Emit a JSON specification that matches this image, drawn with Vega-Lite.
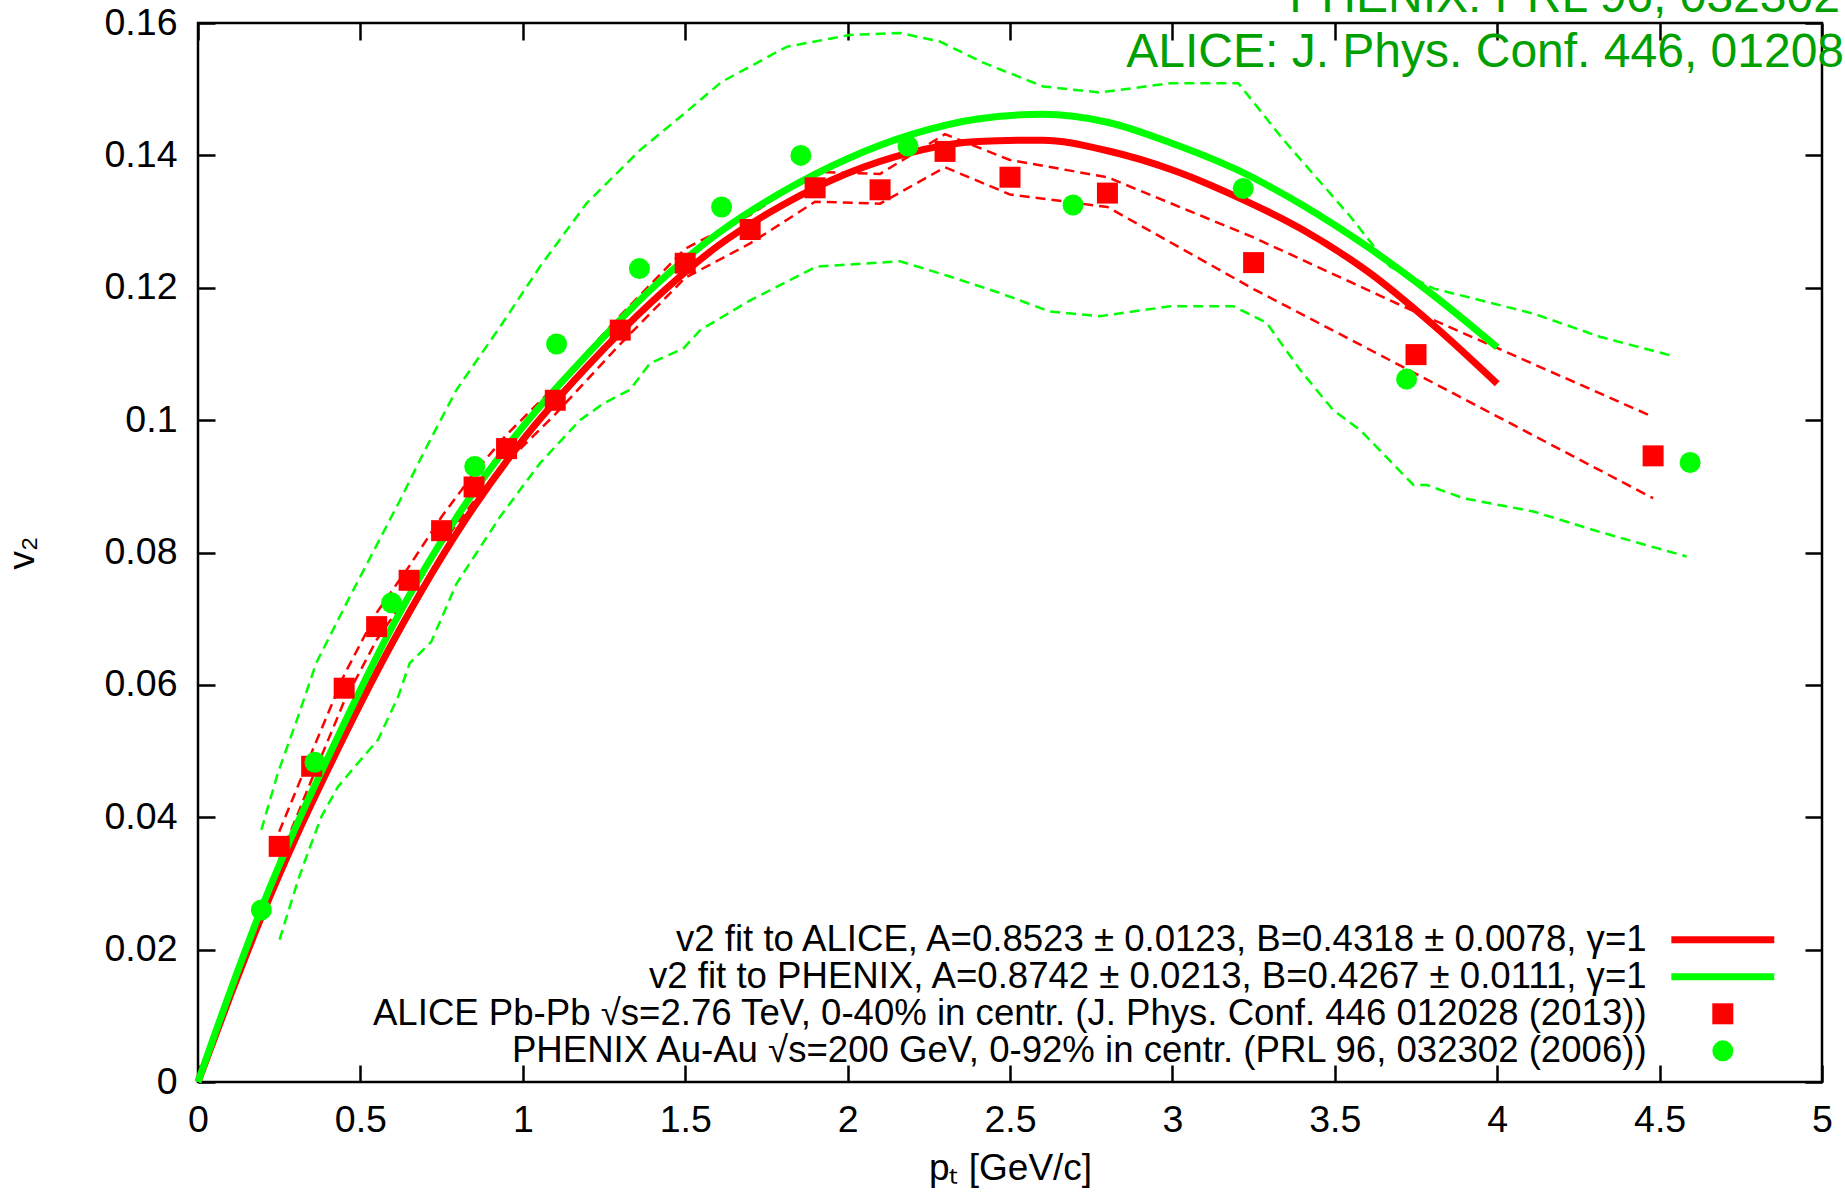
{
  "$schema": "https://vega.github.io/schema/vega-lite/v6.json",
  "width": 1624,
  "height": 1059,
  "autosize": "none",
  "padding": {"left": 198, "top": 23, "right": 23, "bottom": 110},
  "background": "white",
  "config": {
    "view": {"stroke": "black", "strokeWidth": 2.5},
    "font": "Liberation Sans",
    "axis": {
      "domain": false, "grid": false, "ticks": true,
      "tickColor": "black", "tickWidth": 2.5, "tickSize": -17,
      "labelFont": "Liberation Sans", "labelFontSize": 37.5, "labelColor": "black",
      "labelFlush": false, "labelOverlap": false,
      "titleFont": "Liberation Sans", "titleFontSize": 37, "titleFontWeight": "normal", "titleColor": "black"
    },
    "legend": {"symbolOpacity": 1}
  },
  "datasets": {
    "points": [
      {"pt": 0.25, "v2": 0.0356, "series": "ALICE Pb-Pb √s=2.76 TeV, 0-40% in centr. (J. Phys. Conf. 446 012028 (2013))"},
      {"pt": 0.35, "v2": 0.0477, "series": "ALICE Pb-Pb √s=2.76 TeV, 0-40% in centr. (J. Phys. Conf. 446 012028 (2013))"},
      {"pt": 0.45, "v2": 0.0595, "series": "ALICE Pb-Pb √s=2.76 TeV, 0-40% in centr. (J. Phys. Conf. 446 012028 (2013))"},
      {"pt": 0.55, "v2": 0.0688, "series": "ALICE Pb-Pb √s=2.76 TeV, 0-40% in centr. (J. Phys. Conf. 446 012028 (2013))"},
      {"pt": 0.65, "v2": 0.0758, "series": "ALICE Pb-Pb √s=2.76 TeV, 0-40% in centr. (J. Phys. Conf. 446 012028 (2013))"},
      {"pt": 0.75, "v2": 0.0833, "series": "ALICE Pb-Pb √s=2.76 TeV, 0-40% in centr. (J. Phys. Conf. 446 012028 (2013))"},
      {"pt": 0.85, "v2": 0.0899, "series": "ALICE Pb-Pb √s=2.76 TeV, 0-40% in centr. (J. Phys. Conf. 446 012028 (2013))"},
      {"pt": 0.95, "v2": 0.0957, "series": "ALICE Pb-Pb √s=2.76 TeV, 0-40% in centr. (J. Phys. Conf. 446 012028 (2013))"},
      {"pt": 1.1, "v2": 0.1030, "series": "ALICE Pb-Pb √s=2.76 TeV, 0-40% in centr. (J. Phys. Conf. 446 012028 (2013))"},
      {"pt": 1.3, "v2": 0.1136, "series": "ALICE Pb-Pb √s=2.76 TeV, 0-40% in centr. (J. Phys. Conf. 446 012028 (2013))"},
      {"pt": 1.5, "v2": 0.1237, "series": "ALICE Pb-Pb √s=2.76 TeV, 0-40% in centr. (J. Phys. Conf. 446 012028 (2013))"},
      {"pt": 1.7, "v2": 0.1288, "series": "ALICE Pb-Pb √s=2.76 TeV, 0-40% in centr. (J. Phys. Conf. 446 012028 (2013))"},
      {"pt": 1.9, "v2": 0.1351, "series": "ALICE Pb-Pb √s=2.76 TeV, 0-40% in centr. (J. Phys. Conf. 446 012028 (2013))"},
      {"pt": 2.1, "v2": 0.1348, "series": "ALICE Pb-Pb √s=2.76 TeV, 0-40% in centr. (J. Phys. Conf. 446 012028 (2013))"},
      {"pt": 2.3, "v2": 0.1406, "series": "ALICE Pb-Pb √s=2.76 TeV, 0-40% in centr. (J. Phys. Conf. 446 012028 (2013))"},
      {"pt": 2.5, "v2": 0.1367, "series": "ALICE Pb-Pb √s=2.76 TeV, 0-40% in centr. (J. Phys. Conf. 446 012028 (2013))"},
      {"pt": 2.8, "v2": 0.1343, "series": "ALICE Pb-Pb √s=2.76 TeV, 0-40% in centr. (J. Phys. Conf. 446 012028 (2013))"},
      {"pt": 3.25, "v2": 0.1238, "series": "ALICE Pb-Pb √s=2.76 TeV, 0-40% in centr. (J. Phys. Conf. 446 012028 (2013))"},
      {"pt": 3.75, "v2": 0.1099, "series": "ALICE Pb-Pb √s=2.76 TeV, 0-40% in centr. (J. Phys. Conf. 446 012028 (2013))"},
      {"pt": 4.48, "v2": 0.0946, "series": "ALICE Pb-Pb √s=2.76 TeV, 0-40% in centr. (J. Phys. Conf. 446 012028 (2013))"},
      {"pt": 0.195, "v2": 0.0260, "series": "PHENIX Au-Au √s=200 GeV, 0-92% in centr. (PRL 96, 032302 (2006))"},
      {"pt": 0.36, "v2": 0.0483, "series": "PHENIX Au-Au √s=200 GeV, 0-92% in centr. (PRL 96, 032302 (2006))"},
      {"pt": 0.596, "v2": 0.0724, "series": "PHENIX Au-Au √s=200 GeV, 0-92% in centr. (PRL 96, 032302 (2006))"},
      {"pt": 0.852, "v2": 0.0930, "series": "PHENIX Au-Au √s=200 GeV, 0-92% in centr. (PRL 96, 032302 (2006))"},
      {"pt": 1.104, "v2": 0.1115, "series": "PHENIX Au-Au √s=200 GeV, 0-92% in centr. (PRL 96, 032302 (2006))"},
      {"pt": 1.359, "v2": 0.1229, "series": "PHENIX Au-Au √s=200 GeV, 0-92% in centr. (PRL 96, 032302 (2006))"},
      {"pt": 1.612, "v2": 0.1322, "series": "PHENIX Au-Au √s=200 GeV, 0-92% in centr. (PRL 96, 032302 (2006))"},
      {"pt": 1.856, "v2": 0.1400, "series": "PHENIX Au-Au √s=200 GeV, 0-92% in centr. (PRL 96, 032302 (2006))"},
      {"pt": 2.186, "v2": 0.1414, "series": "PHENIX Au-Au √s=200 GeV, 0-92% in centr. (PRL 96, 032302 (2006))"},
      {"pt": 2.694, "v2": 0.1325, "series": "PHENIX Au-Au √s=200 GeV, 0-92% in centr. (PRL 96, 032302 (2006))"},
      {"pt": 3.218, "v2": 0.1350, "series": "PHENIX Au-Au √s=200 GeV, 0-92% in centr. (PRL 96, 032302 (2006))"},
      {"pt": 3.721, "v2": 0.1062, "series": "PHENIX Au-Au √s=200 GeV, 0-92% in centr. (PRL 96, 032302 (2006))"},
      {"pt": 4.594, "v2": 0.0936, "series": "PHENIX Au-Au √s=200 GeV, 0-92% in centr. (PRL 96, 032302 (2006))"}
    ],
    "fitA": [
      {"pt": 0, "v2": 0}, {"pt": 0.1, "v2": 0.0131}, {"pt": 0.2, "v2": 0.0255}, {"pt": 0.3, "v2": 0.0368},
      {"pt": 0.4, "v2": 0.0472}, {"pt": 0.6, "v2": 0.0665}, {"pt": 0.8, "v2": 0.0832}, {"pt": 1.0, "v2": 0.0970},
      {"pt": 1.2, "v2": 0.1082}, {"pt": 1.4, "v2": 0.1180}, {"pt": 1.6, "v2": 0.1263}, {"pt": 1.8, "v2": 0.1325},
      {"pt": 2.0, "v2": 0.1373}, {"pt": 2.2, "v2": 0.1405}, {"pt": 2.4, "v2": 0.1421}, {"pt": 2.6, "v2": 0.1423},
      {"pt": 2.8, "v2": 0.1407}, {"pt": 3.0, "v2": 0.1378}, {"pt": 3.2, "v2": 0.1337}, {"pt": 3.4, "v2": 0.1288},
      {"pt": 3.6, "v2": 0.1225}, {"pt": 3.8, "v2": 0.1145}, {"pt": 4.0, "v2": 0.1055}
    ],
    "fitP": [
      {"pt": 0, "v2": 0}, {"pt": 0.1, "v2": 0.0138}, {"pt": 0.2, "v2": 0.0268}, {"pt": 0.3, "v2": 0.0384},
      {"pt": 0.4, "v2": 0.0490}, {"pt": 0.6, "v2": 0.0690}, {"pt": 0.8, "v2": 0.0856}, {"pt": 1.0, "v2": 0.0990},
      {"pt": 1.2, "v2": 0.1100}, {"pt": 1.4, "v2": 0.1200}, {"pt": 1.6, "v2": 0.1282}, {"pt": 1.8, "v2": 0.1345},
      {"pt": 2.0, "v2": 0.1395}, {"pt": 2.2, "v2": 0.1432}, {"pt": 2.4, "v2": 0.1455}, {"pt": 2.6, "v2": 0.1462},
      {"pt": 2.8, "v2": 0.1450}, {"pt": 3.0, "v2": 0.1418}, {"pt": 3.2, "v2": 0.1378}, {"pt": 3.4, "v2": 0.1325},
      {"pt": 3.6, "v2": 0.1262}, {"pt": 3.8, "v2": 0.1190}, {"pt": 4.0, "v2": 0.1110}
    ],
    "bandA": [
      {"pt": 0.25, "v2": 0.0378, "edge": "hi"}, {"pt": 0.35, "v2": 0.0498, "edge": "hi"}, {"pt": 0.45, "v2": 0.0615, "edge": "hi"},
      {"pt": 0.55, "v2": 0.0709, "edge": "hi"}, {"pt": 0.65, "v2": 0.0779, "edge": "hi"}, {"pt": 0.75, "v2": 0.0854, "edge": "hi"},
      {"pt": 0.85, "v2": 0.0920, "edge": "hi"}, {"pt": 0.95, "v2": 0.0978, "edge": "hi"}, {"pt": 1.1, "v2": 0.1051, "edge": "hi"},
      {"pt": 1.3, "v2": 0.1158, "edge": "hi"}, {"pt": 1.5, "v2": 0.1259, "edge": "hi"}, {"pt": 1.7, "v2": 0.1310, "edge": "hi"},
      {"pt": 1.9, "v2": 0.1375, "edge": "hi"}, {"pt": 2.1, "v2": 0.1372, "edge": "hi"}, {"pt": 2.3, "v2": 0.1432, "edge": "hi"},
      {"pt": 2.5, "v2": 0.1393, "edge": "hi"}, {"pt": 2.8, "v2": 0.1367, "edge": "hi"}, {"pt": 3.25, "v2": 0.1276, "edge": "hi"},
      {"pt": 3.75, "v2": 0.1163, "edge": "hi"}, {"pt": 4.48, "v2": 0.1005, "edge": "hi"},
      {"pt": 0.25, "v2": 0.0336, "edge": "lo"}, {"pt": 0.35, "v2": 0.0457, "edge": "lo"}, {"pt": 0.45, "v2": 0.0575, "edge": "lo"},
      {"pt": 0.55, "v2": 0.0668, "edge": "lo"}, {"pt": 0.65, "v2": 0.0738, "edge": "lo"}, {"pt": 0.75, "v2": 0.0812, "edge": "lo"},
      {"pt": 0.85, "v2": 0.0878, "edge": "lo"}, {"pt": 0.95, "v2": 0.0936, "edge": "lo"}, {"pt": 1.1, "v2": 0.1009, "edge": "lo"},
      {"pt": 1.3, "v2": 0.1115, "edge": "lo"}, {"pt": 1.5, "v2": 0.1215, "edge": "lo"}, {"pt": 1.7, "v2": 0.1267, "edge": "lo"},
      {"pt": 1.9, "v2": 0.1330, "edge": "lo"}, {"pt": 2.1, "v2": 0.1327, "edge": "lo"}, {"pt": 2.3, "v2": 0.1382, "edge": "lo"},
      {"pt": 2.5, "v2": 0.1341, "edge": "lo"}, {"pt": 2.8, "v2": 0.1322, "edge": "lo"}, {"pt": 3.25, "v2": 0.1198, "edge": "lo"},
      {"pt": 3.75, "v2": 0.1070, "edge": "lo"}, {"pt": 4.48, "v2": 0.0882, "edge": "lo"}
    ],
    "bandP": [
      {"pt": 0.195, "v2": 0.0381, "edge": "hi"}, {"pt": 0.246, "v2": 0.0467, "edge": "hi"}, {"pt": 0.308, "v2": 0.0552, "edge": "hi"},
      {"pt": 0.364, "v2": 0.0633, "edge": "hi"}, {"pt": 0.462, "v2": 0.0728, "edge": "hi"}, {"pt": 0.622, "v2": 0.0879, "edge": "hi"},
      {"pt": 0.699, "v2": 0.0955, "edge": "hi"}, {"pt": 0.796, "v2": 0.1046, "edge": "hi"}, {"pt": 0.930, "v2": 0.1141, "edge": "hi"},
      {"pt": 1.053, "v2": 0.1232, "edge": "hi"}, {"pt": 1.197, "v2": 0.1328, "edge": "hi"}, {"pt": 1.361, "v2": 0.1408, "edge": "hi"},
      {"pt": 1.504, "v2": 0.1466, "edge": "hi"}, {"pt": 1.612, "v2": 0.1511, "edge": "hi"}, {"pt": 1.812, "v2": 0.1564, "edge": "hi"},
      {"pt": 2.007, "v2": 0.1582, "edge": "hi"}, {"pt": 2.161, "v2": 0.1585, "edge": "hi"}, {"pt": 2.284, "v2": 0.1572, "edge": "hi"},
      {"pt": 2.418, "v2": 0.1540, "edge": "hi"}, {"pt": 2.603, "v2": 0.1504, "edge": "hi"}, {"pt": 2.777, "v2": 0.1495, "edge": "hi"},
      {"pt": 2.993, "v2": 0.1509, "edge": "hi"}, {"pt": 3.203, "v2": 0.1509, "edge": "hi"}, {"pt": 3.341, "v2": 0.1424, "edge": "hi"},
      {"pt": 3.547, "v2": 0.1308, "edge": "hi"}, {"pt": 3.670, "v2": 0.1232, "edge": "hi"}, {"pt": 3.803, "v2": 0.1199, "edge": "hi"},
      {"pt": 4.111, "v2": 0.1161, "edge": "hi"}, {"pt": 4.316, "v2": 0.1126, "edge": "hi"}, {"pt": 4.532, "v2": 0.1098, "edge": "hi"},
      {"pt": 0.251, "v2": 0.0215, "edge": "lo"}, {"pt": 0.308, "v2": 0.0305, "edge": "lo"}, {"pt": 0.338, "v2": 0.0346, "edge": "lo"},
      {"pt": 0.380, "v2": 0.0401, "edge": "lo"}, {"pt": 0.431, "v2": 0.0446, "edge": "lo"}, {"pt": 0.482, "v2": 0.0476, "edge": "lo"},
      {"pt": 0.554, "v2": 0.0517, "edge": "lo"}, {"pt": 0.616, "v2": 0.0582, "edge": "lo"}, {"pt": 0.652, "v2": 0.0633, "edge": "lo"},
      {"pt": 0.718, "v2": 0.0665, "edge": "lo"}, {"pt": 0.796, "v2": 0.0753, "edge": "lo"}, {"pt": 0.930, "v2": 0.0854, "edge": "lo"},
      {"pt": 1.053, "v2": 0.0935, "edge": "lo"}, {"pt": 1.176, "v2": 0.1000, "edge": "lo"}, {"pt": 1.248, "v2": 0.1025, "edge": "lo"},
      {"pt": 1.330, "v2": 0.1046, "edge": "lo"}, {"pt": 1.392, "v2": 0.1086, "edge": "lo"}, {"pt": 1.494, "v2": 0.1108, "edge": "lo"},
      {"pt": 1.546, "v2": 0.1136, "edge": "lo"}, {"pt": 1.700, "v2": 0.1181, "edge": "lo"}, {"pt": 1.905, "v2": 0.1232, "edge": "lo"},
      {"pt": 2.161, "v2": 0.1240, "edge": "lo"}, {"pt": 2.315, "v2": 0.1217, "edge": "lo"}, {"pt": 2.469, "v2": 0.1192, "edge": "lo"},
      {"pt": 2.623, "v2": 0.1164, "edge": "lo"}, {"pt": 2.777, "v2": 0.1157, "edge": "lo"}, {"pt": 2.993, "v2": 0.1172, "edge": "lo"},
      {"pt": 3.188, "v2": 0.1172, "edge": "lo"}, {"pt": 3.290, "v2": 0.1147, "edge": "lo"}, {"pt": 3.393, "v2": 0.1076, "edge": "lo"},
      {"pt": 3.495, "v2": 0.1015, "edge": "lo"}, {"pt": 3.578, "v2": 0.0985, "edge": "lo"}, {"pt": 3.742, "v2": 0.0902, "edge": "lo"},
      {"pt": 3.783, "v2": 0.0902, "edge": "lo"}, {"pt": 3.896, "v2": 0.0882, "edge": "lo"}, {"pt": 4.111, "v2": 0.0862, "edge": "lo"},
      {"pt": 4.316, "v2": 0.0831, "edge": "lo"}, {"pt": 4.583, "v2": 0.0794, "edge": "lo"}
    ]
  },
  "layer": [
    {
      "data": {"name": "bandP"},
      "mark": {"type": "line", "color": "#00ff00", "strokeWidth": 2.5, "strokeDash": [10, 6]},
      "encoding": {
        "x": {"field": "pt", "type": "quantitative",
              "scale": {"domain": [0, 5], "nice": false, "zero": false},
              "axis": {"orient": "bottom", "values": [0, 0.5, 1, 1.5, 2, 2.5, 3, 3.5, 4, 4.5, 5], "format": "~g",
                       "title": "pₜ [GeV/c]", "labelPadding": 36, "titlePadding": 12}},
        "y": {"field": "v2", "type": "quantitative",
              "scale": {"domain": [0, 0.16], "nice": false, "zero": false},
              "axis": {"orient": "left", "values": [0, 0.02, 0.04, 0.06, 0.08, 0.1, 0.12, 0.14, 0.16], "format": "~g",
                       "title": "v₂", "labelPadding": 38, "titlePadding": 63}},
        "detail": {"field": "edge", "type": "nominal"}
      }
    },
    {
      "data": {"name": "bandA"},
      "mark": {"type": "line", "color": "#ff0000", "strokeWidth": 2.5, "strokeDash": [10, 6]},
      "encoding": {
        "x": {"field": "pt", "type": "quantitative", "axis": null},
        "y": {"field": "v2", "type": "quantitative", "axis": null},
        "detail": {"field": "edge", "type": "nominal"}
      }
    },
    {
      "data": {"name": "fitA"},
      "mark": {"type": "line", "color": "#ff0000", "strokeWidth": 7, "interpolate": "monotone"},
      "encoding": {
        "x": {"field": "pt", "type": "quantitative",
              "axis": {"orient": "top", "labels": false, "title": null, "values": [0, 0.5, 1, 1.5, 2, 2.5, 3, 3.5, 4, 4.5, 5]}},
        "y": {"field": "v2", "type": "quantitative",
              "axis": {"orient": "right", "labels": false, "title": null, "values": [0, 0.02, 0.04, 0.06, 0.08, 0.1, 0.12, 0.14, 0.16]}}
      }
    },
    {
      "data": {"name": "fitP"},
      "mark": {"type": "line", "color": "#00ff00", "strokeWidth": 7, "interpolate": "monotone"},
      "encoding": {
        "x": {"field": "pt", "type": "quantitative", "axis": null},
        "y": {"field": "v2", "type": "quantitative", "axis": null}
      }
    },
    {
      "data": {"name": "points"},
      "mark": {"type": "point", "filled": true, "size": 441, "opacity": 1, "strokeWidth": 0},
      "encoding": {
        "x": {"field": "pt", "type": "quantitative", "axis": null},
        "y": {"field": "v2", "type": "quantitative", "axis": null},
        "color": {"field": "series", "type": "nominal",
          "scale": {"domain": [
            "v2 fit to ALICE, A=0.8523 ± 0.0123, B=0.4318 ± 0.0078, γ=1",
            "v2 fit to PHENIX, A=0.8742 ± 0.0213, B=0.4267 ± 0.0111, γ=1",
            "ALICE Pb-Pb √s=2.76 TeV, 0-40% in centr. (J. Phys. Conf. 446 012028 (2013))",
            "PHENIX Au-Au √s=200 GeV, 0-92% in centr. (PRL 96, 032302 (2006))"],
            "range": ["#ff0000", "#00ff00", "#ff0000", "#00ff00"]},
          "legend": {"title": null, "orient": "none", "legendX": 1506.5, "legendY": 898.5, "padding": 0,
                     "labelFont": "Liberation Sans", "labelFontSize": 36.6, "labelColor": "black",
                     "labelAlign": "right", "labelBaseline": "middle", "labelOffset": -94.5, "labelLimit": 3000,
                     "symbolSize": 441, "symbolStrokeWidth": 0, "rowPadding": -0.5}},
        "shape": {"field": "series", "type": "nominal",
          "scale": {"domain": [
            "v2 fit to ALICE, A=0.8523 ± 0.0123, B=0.4318 ± 0.0078, γ=1",
            "v2 fit to PHENIX, A=0.8742 ± 0.0213, B=0.4267 ± 0.0111, γ=1",
            "ALICE Pb-Pb √s=2.76 TeV, 0-40% in centr. (J. Phys. Conf. 446 012028 (2013))",
            "PHENIX Au-Au √s=200 GeV, 0-92% in centr. (PRL 96, 032302 (2006))"],
            "range": ["M-4.9,-0.34H4.9V0.34H-4.9Z", "M-4.9,-0.34H4.9V0.34H-4.9Z", "square", "circle"]},
          "legend": {"title": null, "orient": "none", "legendX": 1506.5, "legendY": 898.5, "padding": 0,
                     "labelFont": "Liberation Sans", "labelFontSize": 36.6, "labelColor": "black",
                     "labelAlign": "right", "labelBaseline": "middle", "labelOffset": -94.5, "labelLimit": 3000,
                     "symbolSize": 441, "symbolStrokeWidth": 0, "rowPadding": -0.5}}
      }
    },
    {
      "data": {"values": [{"label": "PHENIX: PRL 96, 032302"}]},
      "mark": {"type": "text", "align": "left", "baseline": "alphabetic",
               "font": "Liberation Sans", "fontSize": 48, "color": "#00a000"},
      "encoding": {
        "x": {"datum": 3.36, "type": "quantitative", "axis": null},
        "y": {"datum": 0.1617, "type": "quantitative", "axis": null},
        "text": {"field": "label", "type": "nominal"}
      }
    },
    {
      "data": {"values": [{"label": "ALICE: J. Phys. Conf. 446, 01208"}]},
      "mark": {"type": "text", "align": "left", "baseline": "alphabetic",
               "font": "Liberation Sans", "fontSize": 48, "color": "#00a000"},
      "encoding": {
        "x": {"datum": 2.858, "type": "quantitative", "axis": null},
        "y": {"datum": 0.1534, "type": "quantitative", "axis": null},
        "text": {"field": "label", "type": "nominal"}
      }
    }
  ]
}
